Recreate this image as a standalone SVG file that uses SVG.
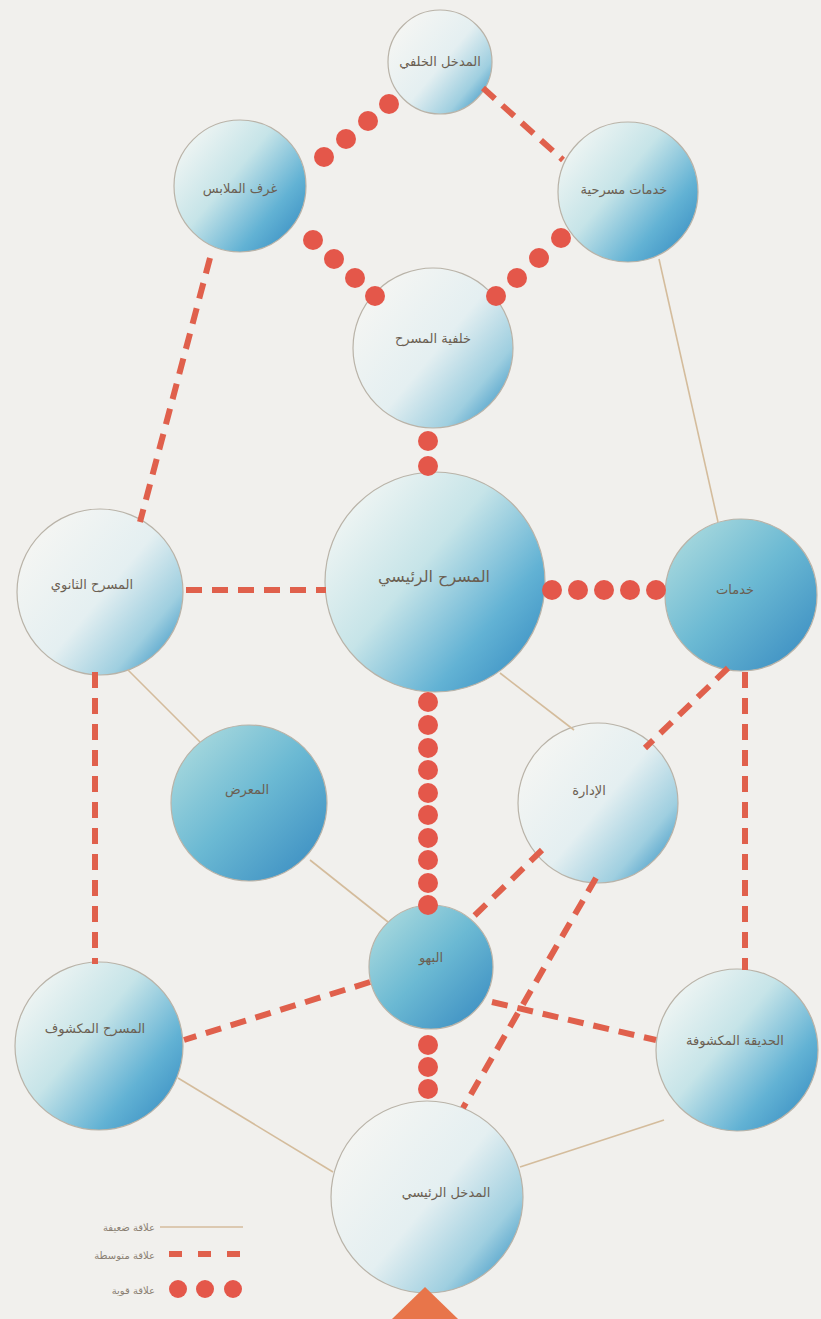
<svg xmlns="http://www.w3.org/2000/svg" width="821" height="1319" viewBox="0 0 821 1319">
<defs>
<linearGradient id="gLight" x1="0.1" y1="0.1" x2="1" y2="0.85">
<stop offset="0" stop-color="#f6f6f3"/><stop offset="0.5" stop-color="#e4eff1"/><stop offset="0.8" stop-color="#9fcfe0"/><stop offset="1" stop-color="#3e97c6"/>
</linearGradient>
<linearGradient id="gMid" x1="0.1" y1="0.1" x2="1" y2="0.85">
<stop offset="0" stop-color="#f2f6f4"/><stop offset="0.4" stop-color="#c6e4e8"/><stop offset="0.75" stop-color="#62b2d4"/><stop offset="1" stop-color="#3a8fc3"/>
</linearGradient>
<linearGradient id="gDark" x1="0" y1="0" x2="1" y2="1">
<stop offset="0" stop-color="#b6e0e0"/><stop offset="0.5" stop-color="#6bb9d3"/><stop offset="1" stop-color="#3588c0"/>
</linearGradient>
<style>
.n{stroke:#b9b3a8;stroke-width:1.2}
.t{font-family:"DejaVu Sans",sans-serif;font-size:13px;fill:#6b5f52;text-anchor:middle}
.weak{stroke:#d4bc9c;stroke-width:1.6;fill:none}
.med{stroke:#e0604c;stroke-width:6;stroke-dasharray:16 10;fill:none}
.dot{fill:#e4574a}
.lg{font-family:"DejaVu Sans",sans-serif;font-size:10px;fill:#8a7f72;text-anchor:start}
</style>
</defs>
<rect width="821" height="1319" fill="#f1f0ed"/>

<g id="nodes">
<g id="n-back-entrance"><circle class="n" cx="440" cy="62" r="52" fill="url(#gLight)"/><text class="t" x="440" y="66" direction="rtl">المدخل الخلفي</text></g>
<g id="n-dressing"><circle class="n" cx="240" cy="186" r="66" fill="url(#gMid)"/><text class="t" x="240" y="193" direction="rtl">غرف الملابس</text></g>
<g id="n-stage-services"><circle class="n" cx="628" cy="192" r="70" fill="url(#gMid)"/><text class="t" x="624" y="194" direction="rtl">خدمات مسرحية</text></g>
<g id="n-backstage"><circle class="n" cx="433" cy="348" r="80" fill="url(#gLight)"/><text class="t" x="433" y="343" direction="rtl">خلفية المسرح</text></g>
<g id="n-main-stage"><circle class="n" cx="435" cy="582" r="110" fill="url(#gMid)"/><text class="t" x="434" y="582" direction="rtl" style="font-size:16px">المسرح الرئيسي</text></g>
<g id="n-secondary-stage"><circle class="n" cx="100" cy="592" r="83" fill="url(#gLight)"/><text class="t" x="92" y="589" direction="rtl">المسرح الثانوي</text></g>
<g id="n-services"><circle class="n" cx="741" cy="595" r="76" fill="url(#gDark)"/><text class="t" x="735" y="594" direction="rtl">خدمات</text></g>
<g id="n-gallery"><circle class="n" cx="249" cy="803" r="78" fill="url(#gDark)"/><text class="t" x="247" y="794" direction="rtl">المعرض</text></g>
<g id="n-admin"><circle class="n" cx="598" cy="803" r="80" fill="url(#gLight)"/><text class="t" x="589" y="795" direction="rtl">الإدارة</text></g>
<g id="n-lobby"><circle class="n" cx="431" cy="967" r="62" fill="url(#gDark)"/><text class="t" x="431" y="962" direction="rtl">البهو</text></g>
<g id="n-open-stage"><circle class="n" cx="99" cy="1046" r="84" fill="url(#gMid)"/><text class="t" x="95" y="1033" direction="rtl">المسرح المكشوف</text></g>
<g id="n-open-garden"><circle class="n" cx="737" cy="1050" r="81" fill="url(#gMid)"/><text class="t" x="735" y="1045" direction="rtl">الحديقة المكشوفة</text></g>
<g id="n-main-entrance"><circle class="n" cx="427" cy="1197" r="96" fill="url(#gLight)"/><text class="t" x="446" y="1197" direction="rtl">المدخل الرئيسي</text></g>
</g>

<g id="connectors">
<line class="weak" x1="659" y1="259" x2="718" y2="522"/>
<line class="weak" x1="128" y1="670" x2="200" y2="742"/>
<line class="weak" x1="500" y1="673" x2="574" y2="730"/>
<line class="weak" x1="310" y1="860" x2="388" y2="922"/>
<line class="weak" x1="178" y1="1078" x2="333" y2="1172"/>
<line class="weak" x1="664" y1="1120" x2="520" y2="1167"/>

<line class="med" x1="483" y1="88" x2="563" y2="160"/>
<line class="med" x1="210" y1="258" x2="140" y2="522"/>
<line class="med" x1="186" y1="590" x2="326" y2="590"/>
<line class="med" x1="95" y1="672" x2="95" y2="964"/>
<line class="med" x1="728" y1="668" x2="645" y2="748"/>
<line class="med" x1="745" y1="672" x2="745" y2="970"/>
<line class="med" x1="542" y1="850" x2="470" y2="920"/>
<line class="med" x1="596" y1="878" x2="463" y2="1108"/>
<line class="med" x1="370" y1="982" x2="184" y2="1040"/>
<line class="med" x1="492" y1="1002" x2="656" y2="1040"/>

<circle class="dot" cx="324" cy="157" r="10"/><circle class="dot" cx="346" cy="139" r="10"/><circle class="dot" cx="368" cy="121" r="10"/><circle class="dot" cx="389" cy="104" r="10"/>
<circle class="dot" cx="313" cy="240" r="10"/><circle class="dot" cx="334" cy="259" r="10"/><circle class="dot" cx="355" cy="278" r="10"/><circle class="dot" cx="375" cy="296" r="10"/>
<circle class="dot" cx="561" cy="238" r="10"/><circle class="dot" cx="539" cy="258" r="10"/><circle class="dot" cx="517" cy="278" r="10"/><circle class="dot" cx="496" cy="296" r="10"/>
<circle class="dot" cx="428" cy="441" r="10"/><circle class="dot" cx="428" cy="466" r="10"/>
<circle class="dot" cx="552" cy="590" r="10"/><circle class="dot" cx="578" cy="590" r="10"/><circle class="dot" cx="604" cy="590" r="10"/><circle class="dot" cx="630" cy="590" r="10"/><circle class="dot" cx="656" cy="590" r="10"/>
<circle class="dot" cx="428" cy="702" r="10"/><circle class="dot" cx="428" cy="725" r="10"/><circle class="dot" cx="428" cy="748" r="10"/><circle class="dot" cx="428" cy="770" r="10"/><circle class="dot" cx="428" cy="793" r="10"/><circle class="dot" cx="428" cy="815" r="10"/><circle class="dot" cx="428" cy="838" r="10"/><circle class="dot" cx="428" cy="860" r="10"/><circle class="dot" cx="428" cy="883" r="10"/><circle class="dot" cx="428" cy="905" r="10"/>
<circle class="dot" cx="428" cy="1045" r="10"/><circle class="dot" cx="428" cy="1067" r="10"/><circle class="dot" cx="428" cy="1089" r="10"/>
</g>

<polygon id="entry-arrow" points="425,1287 392,1319 458,1319" fill="#e8754a"/>

<g id="legend">
<line class="weak" x1="160" y1="1227" x2="243" y2="1227"/>
<text class="lg" x="155" y="1231" direction="rtl">علاقة ضعيفة</text>
<line class="med" x1="169" y1="1254" x2="245" y2="1254" style="stroke-dasharray:13 16"/>
<text class="lg" x="155" y="1259" direction="rtl">علاقة متوسطة</text>
<circle class="dot" cx="178" cy="1289" r="9"/><circle class="dot" cx="205" cy="1289" r="9"/><circle class="dot" cx="233" cy="1289" r="9"/>
<text class="lg" x="155" y="1294" direction="rtl">علاقة قوية</text>
</g>
</svg>
